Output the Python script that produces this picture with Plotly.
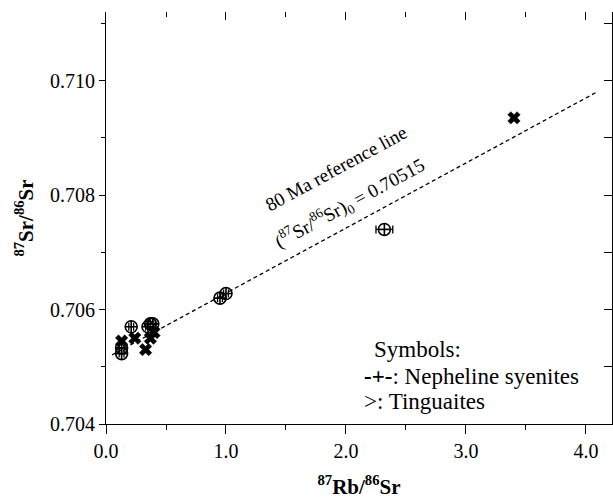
import plotly.graph_objects as go

# Nepheline syenites (circle with cross)
ns_x = [0.13, 0.13, 0.21, 0.35, 0.37, 0.39, 0.95, 1.00, 2.32]
ns_y = [0.70523, 0.70533, 0.70570, 0.70570, 0.70575, 0.70575, 0.70620, 0.70628, 0.70740]
ns_xerr = [0.02, 0.02, 0.02, 0.02, 0.02, 0.02, 0.02, 0.02, 0.07]

# Tinguaites (bold x)
tg_x = [0.13, 0.24, 0.33, 0.37, 0.40, 3.40]
tg_y = [0.70545, 0.70550, 0.70530, 0.70550, 0.70560, 0.70935]

# 80 Ma reference line
ref_x = [0.05, 4.10]
ref_i0 = 0.70515
ref_slope = 0.001137
ref_y = [ref_i0 + ref_slope * v for v in ref_x]

x_ticks = [0.0, 1.0, 2.0, 3.0, 4.0]
y_ticks = [0.704, 0.706, 0.708, 0.710]

X_RANGE = [0.0, 4.217]
Y_RANGE = [0.704, 0.7112]

FONT = "Liberation Serif"

fig = go.Figure()

fig.add_trace(go.Scatter(
    x=ref_x, y=ref_y, mode="lines",
    line=dict(color="black", width=1.3, dash="4px,3px"),
    showlegend=False, hoverinfo="skip"))

fig.add_trace(go.Scatter(
    x=ns_x, y=ns_y, mode="markers",
    marker=dict(symbol="circle-cross-open", size=12, color="black",
                line=dict(color="black", width=1.6)),
    error_x=dict(type="data", array=ns_xerr, color="black", thickness=1.3, width=4),
    showlegend=False))

fig.add_trace(go.Scatter(
    x=tg_x, y=tg_y, mode="markers",
    marker=dict(symbol="x", size=11, color="black",
                line=dict(color="black", width=0.5)),
    showlegend=False))

# dummy trace to activate mirror axes
fig.add_trace(go.Scatter(x=[None], y=[None], xaxis="x2", yaxis="y2",
                         showlegend=False, hoverinfo="skip"))

fig.update_layout(
    width=613, height=503,
    margin=dict(l=106, r=1, t=12, b=79),
    paper_bgcolor="white", plot_bgcolor="white",
    font=dict(family=FONT, size=20, color="black"),
    xaxis=dict(range=X_RANGE, tickvals=x_ticks, ticktext=[f"{v:.1f}" for v in x_ticks],
               ticks="outside", ticklen=9, tickwidth=1, tickcolor="black",
               minor=dict(dtick=0.5, tick0=0, ticks="outside", ticklen=5, tickcolor="black"),
               showline=True, linecolor="black", linewidth=1,
               showgrid=False, zeroline=False,
               tickfont=dict(size=20, family=FONT),
               title=dict(text="<b><sup>87</sup>Rb/<sup>86</sup>Sr</b>",
                          font=dict(size=21, family=FONT), standoff=18)),
    yaxis=dict(range=Y_RANGE, tickvals=y_ticks, ticktext=[f"{v:.3f}" for v in y_ticks],
               ticks="outside", ticklen=6, tickwidth=1, tickcolor="black",
               minor=dict(dtick=0.001, tick0=0.704, ticks="outside", ticklen=4, tickcolor="black"),
               showline=True, linecolor="black", linewidth=1,
               showgrid=False, zeroline=False,
               tickfont=dict(size=20, family=FONT),
               title=dict(text="<b><sup>87</sup>Sr/<sup>86</sup>Sr</b>",
                          font=dict(size=21, family=FONT), standoff=10)),
    xaxis2=dict(range=X_RANGE, overlaying="x", side="top", anchor="y",
                tickvals=x_ticks, ticks="inside", ticklen=8, tickcolor="black",
                minor=dict(dtick=0.5, tick0=0, ticks="inside", ticklen=5, tickcolor="black"),
                showticklabels=False, showline=False, showgrid=False, zeroline=False),
    yaxis2=dict(range=Y_RANGE, overlaying="y", side="right", anchor="x",
                dtick=0.001, tick0=0.704, ticks="inside", ticklen=8, tickcolor="black",
                showticklabels=False, showline=True, linecolor="black", linewidth=1,
                showgrid=False, zeroline=False),
)

def px2paper(px, py):
    return (px - 106) / 506, (424 - py) / 412

ann = [
    ("80 Ma reference line", 336, 168, -28.5, 19),
    ("(<sup>87</sup>Sr/<sup>86</sup>Sr)<sub>0</sub> = 0.70515", 349, 203, -28.5, 19),
]
for t, px, py, ang, sz in ann:
    xp, yp = px2paper(px, py)
    fig.add_annotation(text=t, x=xp, y=yp, xref="paper", yref="paper",
                       textangle=ang, showarrow=False, font=dict(size=sz, family=FONT),
                       xanchor="center", yanchor="middle")

leg = [
    ("Symbols:", 372, 349),
    ("<b>-+-</b>: Nepheline syenites", 362, 376),
    ("&gt;: Tinguaites", 362, 401),
]
for t, px, py in leg:
    xp, yp = px2paper(px, py)
    fig.add_annotation(text=t, x=xp, y=yp, xref="paper", yref="paper",
                       showarrow=False, font=dict(size=23, family=FONT),
                       xanchor="left", yanchor="middle")

fig.write_html("out.html")
